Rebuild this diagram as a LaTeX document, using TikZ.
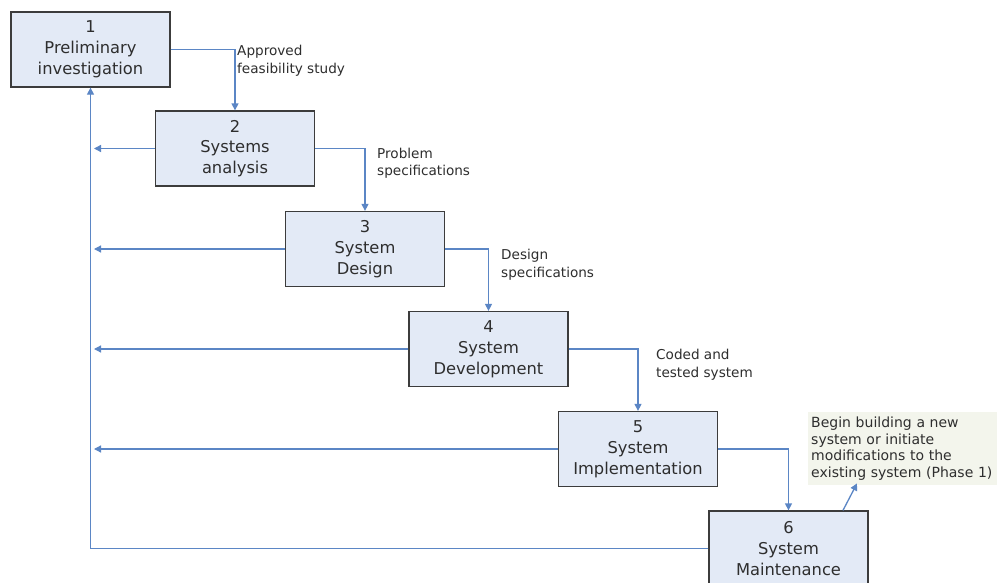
\documentclass[tikz,border=0pt]{standalone}
\usepackage{fontspec}
\setmainfont{DejaVu Sans}
\usetikzlibrary{arrows.meta}
\definecolor{boxfill}{HTML}{E3EAF6}
\definecolor{boxline}{HTML}{3C3C3C}
\definecolor{flow}{HTML}{5B86C5}
\definecolor{notefill}{HTML}{F3F5EC}
\definecolor{txt}{HTML}{2E2E2E}
\begin{document}
\begin{tikzpicture}[x=1pt,y=-1pt,
  phase/.style={draw=boxline,line width=1.3pt,fill=boxfill,minimum width=159pt,
    minimum height=75pt,inner sep=0pt,align=center,text=txt,
    font=\fontsize{16.3}{20.8}\selectfont},
  lbl/.style={anchor=west,align=left,text=txt,inner sep=0pt,
    font=\fontsize{13.6}{17.5}\selectfont},
  flowline/.style={draw=flow,line width=1.3pt},
  arr/.style={flowline,-{Triangle[length=7pt,width=7pt]}}]
  \fill[white] (0,0) rectangle (997,582);
  \clip (0,0) rectangle (997,582);

  % phases of the life cycle
  \node[phase] (b1) at (90.5,49.5) {1\\Preliminary\\investigation};
  \node[phase] (b2) at (235,148.5) {2\\Systems\\analysis};
  \node[phase] (b3) at (365,249) {3\\System\\Design};
  \node[phase] (b4) at (488.5,349) {4\\System\\Development};
  \node[phase] (b5) at (638,449) {5\\System\\Implementation};
  \node[phase] (b6) at (788.5,548.5) {6\\System\\Maintenance};

  % feedback spine on the left
  \coordinate (spine) at (91,300);
  \draw[arr] (b6.west) -| (b1.south);
  \foreach \b in {b2,b3,b4,b5}
    \draw[arr] (\b.west) -- ([xshift=3pt]\b.west -| spine);

  % forward flow between phases
  \draw[arr] (b1.east) -| (b2.north);
  \draw[arr] (b2.east) -| (b3.north);
  \draw[arr] (b3.east) -| (b4.north);
  \draw[arr] (b4.east) -| (b5.north);
  \draw[arr] (b5.east) -| (b6.north);

  % deliverables
  \node[lbl] (l1) at (237,60.5) {Approved\\feasibility study};
  \node[lbl] (l2) at (377,163) {Problem\\specifications};
  \node[lbl] (l3) at (501,264.5) {Design\\specifications};
  \node[lbl] (l4) at (656,364.5) {Coded and\\tested system};

  % return to phase 1
  \node[fill=notefill,anchor=north west,minimum height=73pt,inner sep=3pt,
    text width=186pt,align=left,text=txt,font=\fontsize{14}{16.7}\selectfont]
    (note) at (808,412) {Begin building a new\\system or initiate\\modifications to the\\existing system (Phase 1)};
  \draw[arr] ([xshift=54.5pt]b6.north) -- ([xshift=68.5pt,yshift=2pt]b6.north |- note.south);
\end{tikzpicture}
\end{document}
